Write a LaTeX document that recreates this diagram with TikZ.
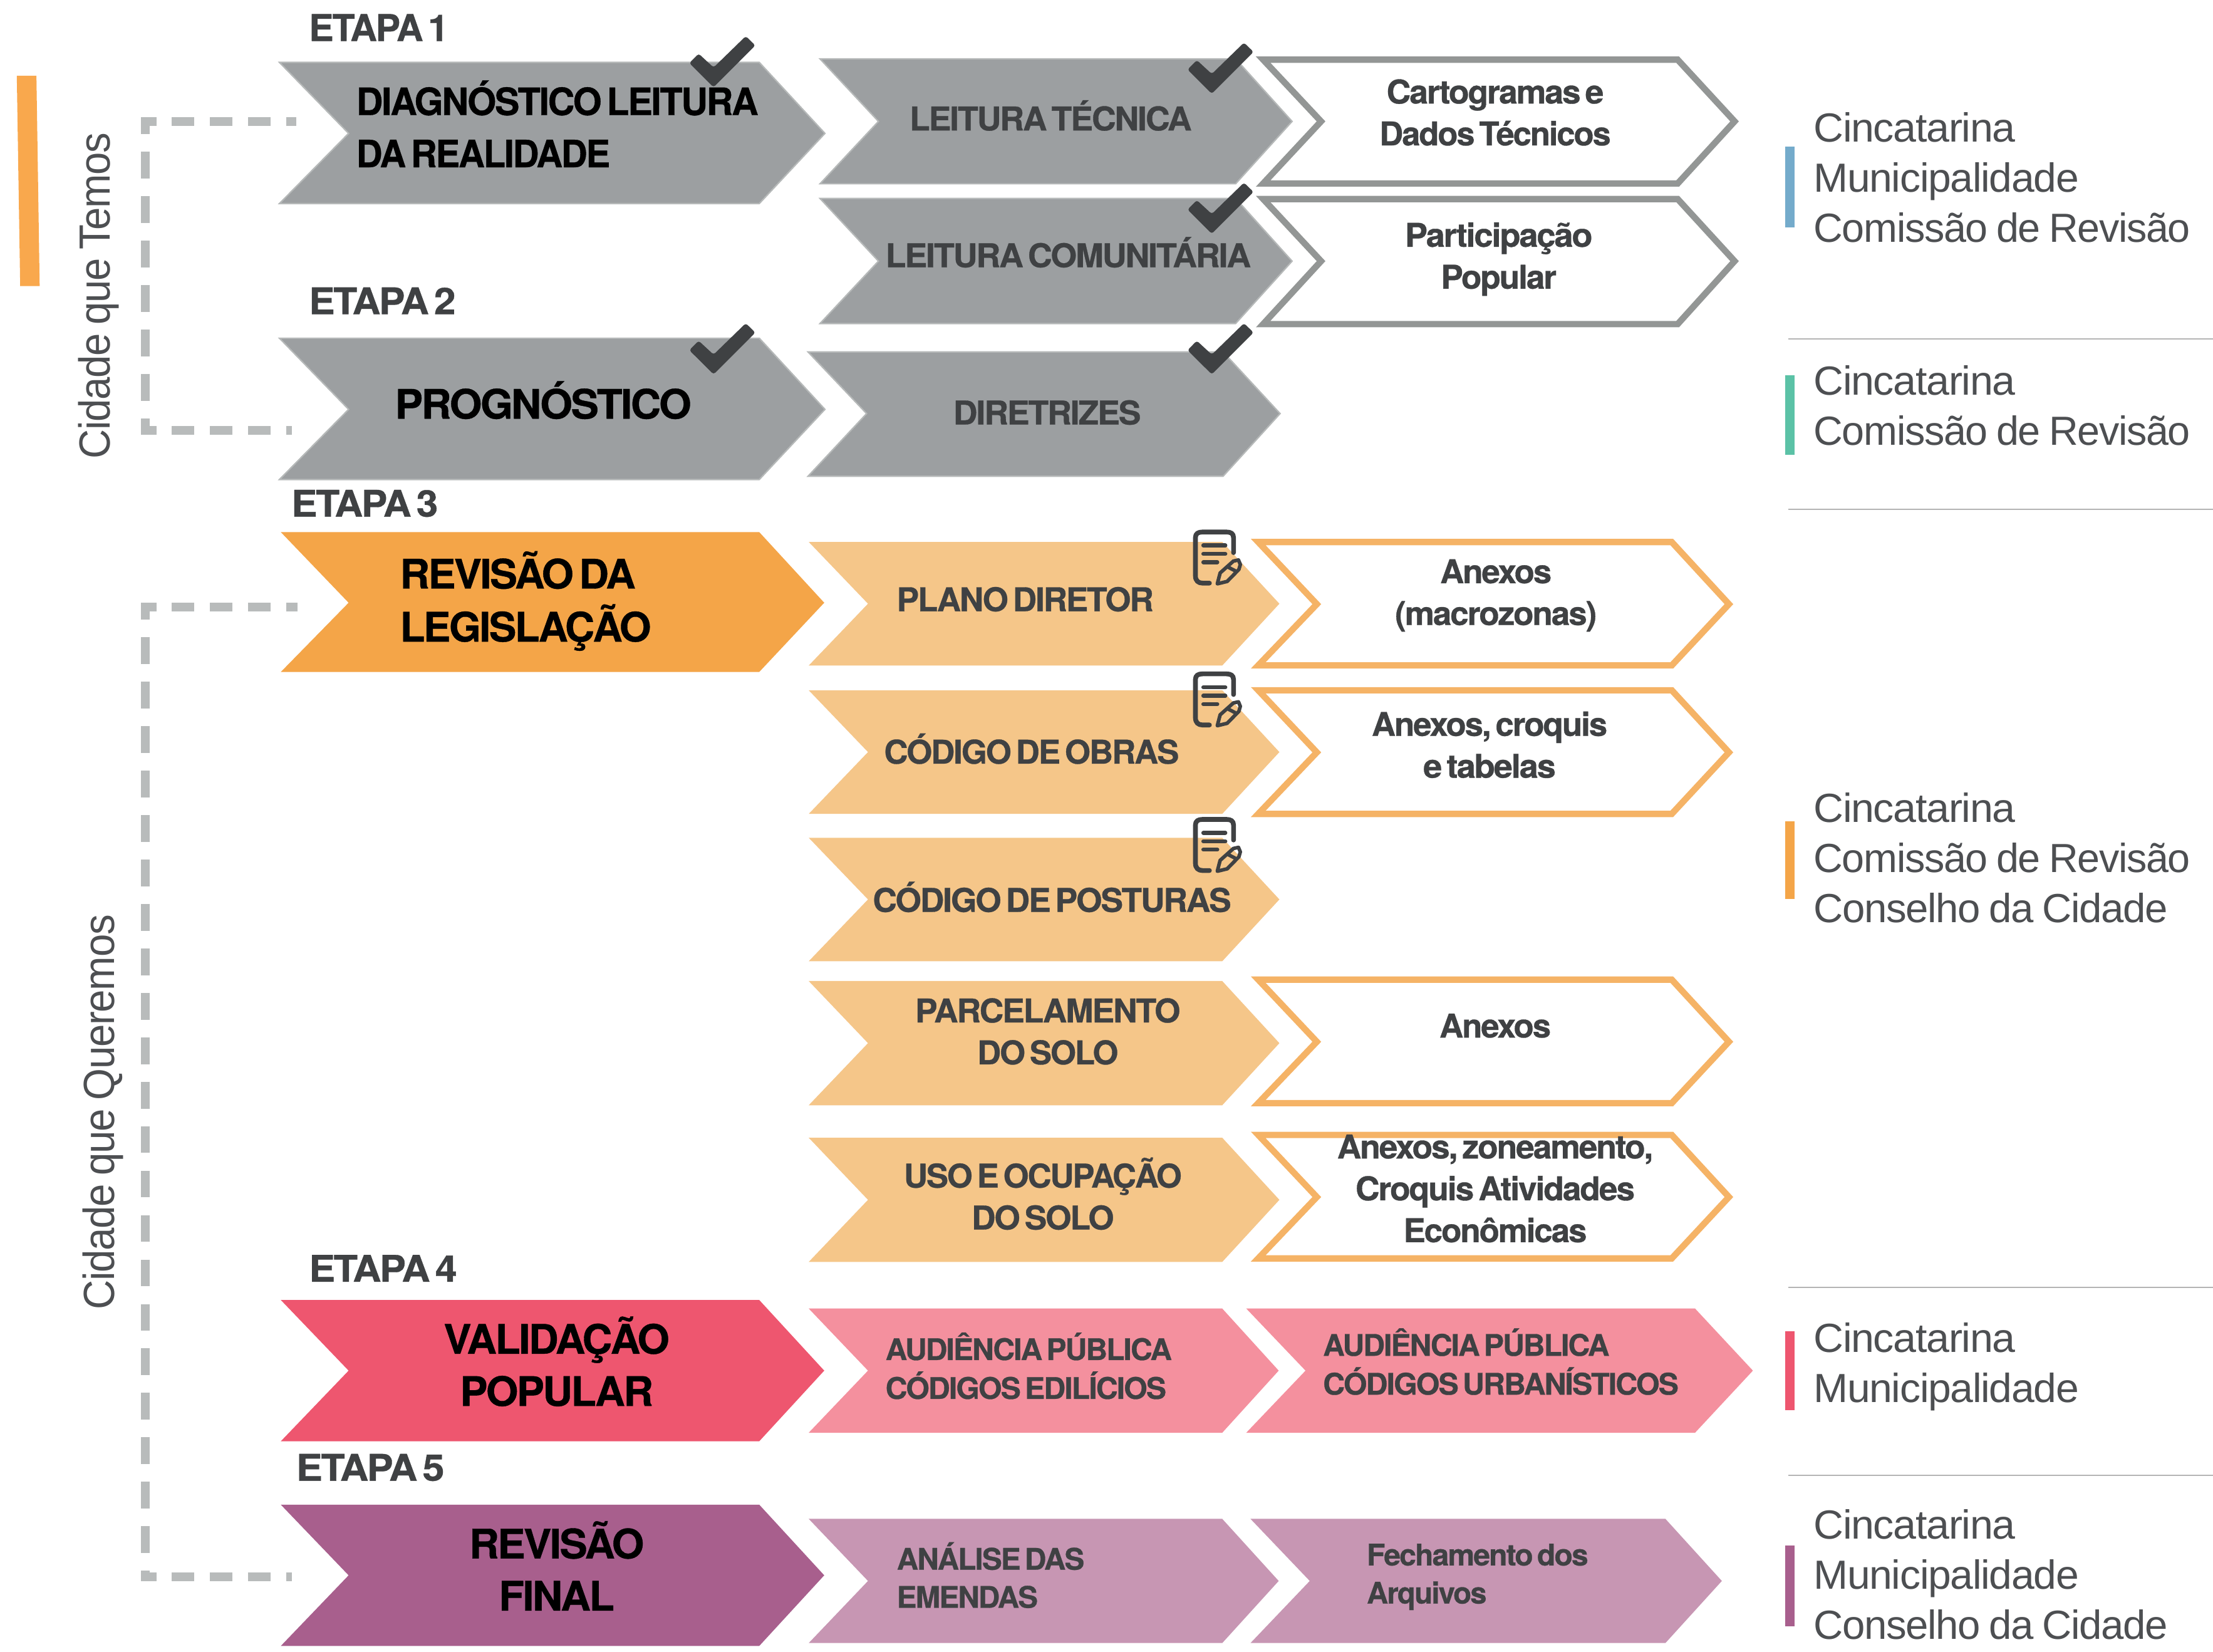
\documentclass[tikz,border=0pt]{standalone}
\usepackage{graphicx}
\usepackage{fontspec}
\setmainfont{TeX Gyre Heros}
\newfontfamily\hbf[LetterSpace=-4,WordSpace=0.55,FakeBold=0.6]{TeX Gyre Heros}
\newfontfamily\hlt[LetterSpace=-2,WordSpace=0.8]{Liberation Sans}
\definecolor{inkA}{HTML}{3F4143}
\definecolor{inkL}{HTML}{4D4F52}
\definecolor{grayF}{HTML}{9C9FA1}
\definecolor{grayE}{HTML}{B6B9B9}
\definecolor{grayO}{HTML}{939695}
\definecolor{amber}{HTML}{F4A548}
\definecolor{amberL}{HTML}{F5C689}
\definecolor{amberO}{HTML}{F5B366}
\definecolor{rosa}{HTML}{EE566F}
\definecolor{rosaL}{HTML}{F4909E}
\definecolor{roxo}{HTML}{A85F8D}
\definecolor{roxoL}{HTML}{C796B3}
\definecolor{dashc}{HTML}{B8BBBB}
\definecolor{barO}{HTML}{F9A84D}
\definecolor{blueb}{HTML}{74ABCB}
\definecolor{greenb}{HTML}{5BC2A6}
\definecolor{sepc}{HTML}{B4B4B4}
\newlength\un \setlength\un{1.42264pt}
\newcommand\W[2]{\resizebox{#1\un}{\height}{#2}}
\newcommand\chev[8]{\draw[#1] (#2,#6)--(#4,#6)--(#5,#8)--(#4,#7)--(#2,#7)--(#3,#8)--cycle;}
\newcommand\checkmk[2]{\fill[inkA,rounded corners=2.4pt,shift={(#1,#2)}] (39,-0.4)--(45.8,6.2)--(16.2,35.8)--(-1,18.7)--(5.6,12)--(16.2,21.8)--cycle;}
\newcommand\docicon[2]{\begin{scope}[shift={(#1,#2)},inkA,line cap=round,line join=round]
\draw[line width=4.8pt] (29,15.6)--(29,5) .. controls (29,2) and (27,1) .. (24,1)--(7,1) .. controls (4,1) and (2,2) .. (2,5)--(2,32) .. controls (2,35.5) and (4,37.2) .. (7,37.2)--(11.9,37.2);
\draw[line width=4pt] (7.6,10.5)--(23.2,10.5) (7.6,16.5)--(23.2,16.5) (7.6,22.4)--(17.5,22.4);
\draw[line width=3.6pt] (17.5,37.7)--(19.5,30)--(28.9,21.6)--(32.5,20.8)--(33.8,24)--(32.8,27.5)--(24.5,36)--cycle (25,25.8)--(30,28.4);
\end{scope}}
\newcommand\blk[2]{\begin{tabular}[b]{@{}#1@{}}#2\end{tabular}}
\tikzset{
 x=0.05cm,y=-0.05cm,
 chevgray/.style={fill=grayF,draw=grayE,line width=1.4pt,line join=miter},
 chevamber/.style={fill=amber,draw=none},
 chevamberl/.style={fill=amberL,draw=none},
 chevrosa/.style={fill=rosa,draw=none},
 chevrosal/.style={fill=rosaL,draw=none},
 chevroxo/.style={fill=roxo,draw=none},
 chevroxol/.style={fill=roxoL,draw=none},
 outgray/.style={draw=grayO,fill=white,line width=6.4pt,line join=miter,miter limit=10},
 outamber/.style={draw=amberO,fill=white,line width=6.4pt,line join=miter,miter limit=10},
 lab/.style={inner sep=0pt,outer sep=0pt},
 etapa/.style={lab,xshift=-0.85pt,anchor=base west,text=inkA,font=\fontsize{37}{37}\selectfont\hbf\bfseries},
 bigt/.style={lab,xshift=-0.85pt,text=black,font=\fontsize{38}{52.6}\selectfont\hbf\bfseries},
 hugt/.style={lab,xshift=-0.85pt,text=black,font=\fontsize{41}{52.6}\selectfont\hbf\bfseries},
 midt/.style={lab,xshift=-0.85pt,text=inkA,font=\fontsize{33}{42.2}\selectfont\hbf\bfseries},
 smlt/.style={lab,xshift=-0.85pt,text=inkA,font=\fontsize{30}{38.4}\selectfont\hbf\bfseries},
 sidet/.style={lab,yshift=-0.5pt,anchor=base west,text=inkL,font=\fontsize{41}{50.5}\selectfont\hlt},
 rott/.style={lab,anchor=base west,rotate=90,text=inkL,font=\fontsize{44}{44}\selectfont\hlt},
 dashh/.style={draw=dashc,line width=8.8pt,dash pattern=on 22.8pt off 15.6pt,dash phase=7.5pt},
 dashv/.style={draw=dashc,line width=8.6pt,dash pattern=on 27pt off 17.8pt,dash phase=10pt},
 sep/.style={draw=sepc,line width=1.2pt},
}
\begin{document}
\begin{tikzpicture}
\useasboundingbox (0,0) rectangle (1568,1170.3);
% top-left bar
\fill[barO] (11.9,53.7)--(25.8,53.7)--(28.1,202.7)--(14.3,202.7)--cycle;
% dashed brackets
\coordinate (b1s) at (100,86); \coordinate (b1e) at (210,86);
\coordinate (b1t) at (103,83); \coordinate (b1b) at (103,308);
\coordinate (b1c) at (100,305); \coordinate (b1f) at (207,305);
\draw[dashh] (b1s)--(b1e); \draw[dashv] (b1t)--(b1b); \draw[dashh] (b1c)--(b1f);
\coordinate (b2s) at (100,430); \coordinate (b2e) at (211,430);
\coordinate (b2t) at (103,427); \coordinate (b2b) at (103,1120);
\coordinate (b2c) at (100,1117); \coordinate (b2f) at (207,1117);
\draw[dashh] (b2s)--(b2e); \draw[dashv] (b2t)--(b2b); \draw[dashh] (b2c)--(b2f);
% stage chevrons
\chev{chevgray}{198}{247}{538}{584.5}{44.2}{144.2}{94.5}
\chev{chevgray}{198}{247}{538}{584.5}{239.6}{339.7}{290}
\chev{chevamber}{199}{247}{538}{584}{377}{476}{427}
\chev{chevrosa}{199}{247}{538}{584}{921}{1021}{971}
\chev{chevroxo}{199}{247}{538}{584}{1066}{1166}{1116}
% second column
\chev{chevgray}{581}{622.4}{875.5}{915.5}{41.7}{130.2}{86}
\chev{chevgray}{581}{622.4}{875.5}{915.5}{140.6}{229.2}{185}
\chev{chevgray}{572.5}{614}{866.6}{907}{249.3}{337.4}{293}
\chev{chevamberl}{573}{615}{866}{906.5}{383.9}{471.5}{427.7}
\chev{chevamberl}{573}{615}{866}{906.5}{489}{576.6}{532.8}
\chev{chevamberl}{573}{615}{866}{906.5}{593.5}{681}{637.2}
\chev{chevamberl}{573}{615}{866}{906.5}{695}{783}{739}
\chev{chevamberl}{573}{615}{866}{906.5}{806}{894}{850}
\chev{chevrosal}{573}{615}{866}{906}{927}{1015}{971}
\chev{chevrosal}{883}{925}{1201}{1242}{927}{1015}{971}
\chev{chevroxol}{573}{615}{866}{906}{1076}{1164}{1120}
\chev{chevroxol}{886}{928}{1180}{1220}{1076}{1164}{1120}
% outlined chevrons
\chev{outgray}{895}{936}{1188.7}{1229}{42.3}{130}{86}
\chev{outgray}{895}{936}{1188.7}{1229}{141}{229.6}{185}
\chev{outamber}{891.5}{933}{1184.5}{1225}{384}{471.4}{428}
\chev{outamber}{891.5}{933}{1184.5}{1225}{489}{576.6}{533}
\chev{outamber}{891.5}{933}{1184.5}{1225}{694}{781.5}{738}
\chev{outamber}{891.5}{933}{1184.5}{1225}{804}{891.5}{848}
% marks
\checkmk{489.4}{26} \checkmk{489.4}{229.4}
\checkmk{842.4}{30.6} \checkmk{842.4}{129.8} \checkmk{842.4}{229.4}
\docicon{845}{375.9} \docicon{845}{476.4} \docicon{845}{579.5}
% stage labels
\node[etapa] (e1) at (219.5,29) {\W{99}{ETAPA 1}};
\node[etapa] (e2) at (219.5,222.6) {\W{104}{ETAPA 2}};
\node[etapa] (e3) at (207,366) {\W{104}{ETAPA 3}};
\node[etapa] (e4) at (219.5,908) {\W{105}{ETAPA 4}};
\node[etapa] (e5) at (210.5,1049) {\W{105}{ETAPA 5}};
% stage texts
\node[bigt,anchor=base west] (s1) at (253,118.5) {\blk{l}{\W{285}{DIAGNÓSTICO LEITURA}\\\W{180}{DA REALIDADE}}};
\node[hugt,anchor=base west] (s2) at (280.5,296.6) {\W{210}{PROGNÓSTICO}};
\node[hugt,anchor=base west] (s3) at (284,454.5) {\blk{l}{\W{167}{REVISÃO DA}\\\W{178}{LEGISLAÇÃO}}};
\node[hugt,anchor=base] (s4) at (395,996) {\blk{c}{\W{160}{VALIDAÇÃO}\\\W{137}{POPULAR}}};
\node[hugt,anchor=base] (s5) at (395,1141) {\blk{c}{\W{124}{REVISÃO}\\\W{82}{FINAL}}};
% second-column texts
\node[midt,anchor=base west] (t1) at (645,92.4) {\W{200}{LEITURA TÉCNICA}};
\node[midt,anchor=base west] (t2) at (628,189.3) {\W{259}{LEITURA COMUNITÁRIA}};
\node[midt,anchor=base west] (t3) at (676,300.7) {\W{133}{DIRETRIZES}};
\node[midt,anchor=base west] (t4) at (636,433) {\W{182}{PLANO DIRETOR}};
\node[midt,anchor=base west] (t5) at (627,541) {\W{209}{CÓDIGO DE OBRAS}};
\node[midt,anchor=base west] (t6) at (619,646) {\W{254}{CÓDIGO DE POSTURAS}};
\node[midt,anchor=base] (t7) at (743,754) {\blk{c}{\W{188}{PARCELAMENTO}\\\W{100}{DO SOLO}}};
\node[midt,anchor=base] (t8) at (739.5,871) {\blk{c}{\W{197}{USO E OCUPAÇÃO}\\\W{101}{DO SOLO}}};
\node[smlt,anchor=base west] (t9) at (628,991) {\blk{l}{\W{203}{AUDIÊNCIA PÚBLICA}\\\W{199}{CÓDIGOS EDILÍCIOS}}};
\node[smlt,anchor=base west] (t10) at (636,1139) {\blk{l}{\W{133}{ANÁLISE DAS}\\\W{100}{EMENDAS}}};
% third-column texts
\node[midt,anchor=base] (u1) at (1060,103) {\blk{c}{\W{154}{Cartogramas e}\\\W{164}{Dados Técnicos}}};
\node[midt,anchor=base] (u2) at (1062.5,204.5) {\blk{c}{\W{133}{Participação}\\\W{82}{Popular}}};
\node[midt,anchor=base] (u3) at (1060.5,442.8) {\blk{c}{\W{79}{Anexos}\\\W{143}{(macrozonas)}}};
\node[midt,anchor=base] (u4) at (1056,551) {\blk{c}{\W{167}{Anexos, croquis}\\\W{94}{e tabelas}}};
\node[midt,anchor=base] (u5) at (1060,735) {\W{79}{Anexos}};
\node[midt,anchor=base] (u6) at (1060,880) {\blk{c}{\W{224}{Anexos, zoneamento,}\\\W{198}{Croquis Atividades}\\\W{130}{Econômicas}}};
\node[smlt,anchor=base west] (u7) at (938,988) {\blk{l}{\W{203}{AUDIÊNCIA PÚBLICA}\\\W{252}{CÓDIGOS URBANÍSTICOS}}};
\node[smlt,anchor=base west] (u8) at (969,1136) {\blk{l}{\W{157}{Fechamento dos}\\\W{85}{Arquivos}}};
% vertical captions
\node[rott] (r1) at (78,325) {\W{231}{Cidade que Temos}};
\node[rott] (r2) at (81,928) {\W{280}{Cidade que Queremos}};
% separators
\coordinate (l1a) at (1267,240); \coordinate (l1b) at (1568,240);
\coordinate (l2a) at (1267,361); \coordinate (l2b) at (1568,361);
\coordinate (l3a) at (1267,912); \coordinate (l3b) at (1568,912);
\coordinate (l4a) at (1267,1045); \coordinate (l4b) at (1568,1045);
\draw[sep] (l1a)--(l1b); \draw[sep] (l2a)--(l2b); \draw[sep] (l3a)--(l3b); \draw[sep] (l4a)--(l4b);
% coloured bars
\fill[blueb] (1265,104) rectangle (1271.5,161);
\fill[greenb] (1265,266) rectangle (1271.5,322);
\fill[amber] (1265,582) rectangle (1271.5,637);
\fill[rosa] (1265,943) rectangle (1271.5,999);
\fill[roxo] (1265,1095) rectangle (1271.5,1152);
% responsible texts
\node[sidet] (g1) at (1285,171) {\blk{l}{\W{143}{Cincatarina}\\\W{188}{Municipalidade}\\\W{267}{Comissão de Revisão}}};
\node[sidet] (g2) at (1285,315) {\blk{l}{\W{143}{Cincatarina}\\\W{267}{Comissão de Revisão}}};
\node[sidet] (g3) at (1285,653) {\blk{l}{\W{143}{Cincatarina}\\\W{267}{Comissão de Revisão}\\\W{251}{Conselho da Cidade}}};
\node[sidet] (g4) at (1285,993) {\blk{l}{\W{143}{Cincatarina}\\\W{188}{Municipalidade}}};
\node[sidet] (g5) at (1285,1161) {\blk{l}{\W{143}{Cincatarina}\\\W{188}{Municipalidade}\\\W{251}{Conselho da Cidade}}};
\end{tikzpicture}
\end{document}
